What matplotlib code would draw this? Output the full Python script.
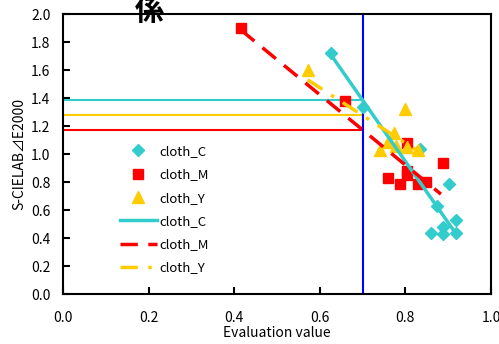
import matplotlib
matplotlib.use("Agg")
import matplotlib.pyplot as plt

plt.rcParams['font.family'] = ['Noto Sans CJK JP', 'DejaVu Sans']

# 測定点 (評価値, S-CIELAB ΔE2000)
c_x = [0.626, 0.700, 0.835, 0.902, 0.873, 0.918, 0.888, 0.860, 0.888, 0.918]
c_y = [1.72, 1.34, 1.04, 0.79, 0.63, 0.53, 0.48, 0.44, 0.43, 0.44]
m_x = [0.416, 0.659, 0.803, 0.888, 0.803, 0.759, 0.787, 0.803, 0.830, 0.848]
m_y = [1.90, 1.38, 1.08, 0.94, 0.88, 0.83, 0.79, 0.85, 0.79, 0.80]
y_x = [0.572, 0.800, 0.773, 0.759, 0.741, 0.778, 0.803, 0.830]
y_y = [1.60, 1.32, 1.15, 1.09, 1.03, 1.06, 1.05, 1.03]

# 近似直線の両端
c_fit_x = [0.626, 0.916]
c_fit_y = [1.71, 0.44]
m_fit_x = [0.416, 0.883]
m_fit_y = [1.886, 0.714]
y_fit_x = [0.572, 0.840]
y_fit_y = [1.53, 1.00]

# 閾値 0.7 での ΔE
threshold = 0.7
c_th = 1.39
m_th = 1.17
y_th = 1.276

CYAN = '#33CCCC'
RED = '#FF0000'
GOLD = '#FFCC00'

fig = plt.figure(figsize=(4.99, 3.44), dpi=100)
ax = fig.add_axes([0.126, 0.145, 0.858, 0.814])

ax.plot([0, threshold], [c_th, c_th], color=CYAN, lw=1.5)
ax.plot([0, threshold], [y_th, y_th], color=GOLD, lw=1.5)
ax.plot([0, threshold], [m_th, m_th], color=RED, lw=1.5)
ax.axvline(threshold, color='#0000FF', lw=1.5)

ax.plot(c_x, c_y, ls='none', marker='D', ms=6, color=CYAN, label='cloth_C')
ax.plot(m_x, m_y, ls='none', marker='s', ms=7, color=RED, label='cloth_M')
ax.plot(y_x, y_y, ls='none', marker='^', ms=8, color=GOLD, label='cloth_Y')
ax.plot(c_fit_x, c_fit_y, color=CYAN, lw=2.5, label='cloth_C')
ax.plot(m_fit_x, m_fit_y, color=RED, lw=2.5, dashes=(5, 3), label='cloth_M')
ax.plot(y_fit_x, y_fit_y, color=GOLD, lw=2.5, dashes=(5, 3, 1, 3), label='cloth_Y')

ax.set_xlim(0, 1.0)
ax.set_ylim(0, 2.0)
ax.set_xticks([0, 0.2, 0.4, 0.6, 0.8, 1.0])
ax.set_yticks([i / 10 for i in range(0, 21, 2)])
ax.xaxis.set_major_formatter(matplotlib.ticker.FormatStrFormatter('%.1f'))
ax.yaxis.set_major_formatter(matplotlib.ticker.FormatStrFormatter('%.1f'))
ax.tick_params(direction='in', length=5, width=1.5, labelsize=10)
ax.tick_params(axis='x', pad=12)
ax.tick_params(axis='y', pad=9)
for s in ax.spines.values():
    s.set_linewidth(1.5)

ax.set_xlabel('Evaluation value', fontsize=10, labelpad=1)
ax.set_ylabel('S-CIELAB⊿E2000', fontsize=10, labelpad=3)

ax.legend(loc='upper left', bbox_to_anchor=(0.105, 0.575), frameon=False,
          fontsize=9.5, handlelength=2.8, handletextpad=0.2, labelspacing=0.78)

fig.text(0.30, 1.012, '係', fontsize=21, fontweight='bold', ha='center', va='top')

fig.savefig('out.png', dpi=100)
